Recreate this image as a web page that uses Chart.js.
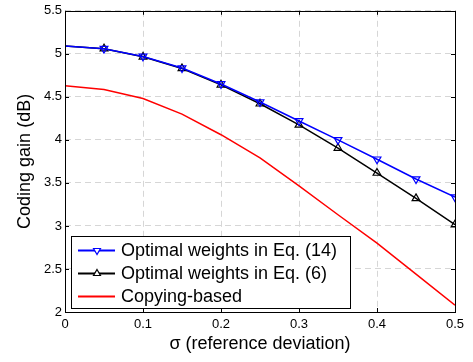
<!DOCTYPE html>
<html>
<head>
<meta charset="utf-8">
<script src="https://cdn.jsdelivr.net/npm/chart.js@4/dist/chart.umd.min.js"></script>
<style>
  html, body { margin: 0; padding: 0; background: #fff; }
  #wrap { width: 473px; height: 362px; position: relative; }
</style>
</head>
<body>
<div id="wrap"><canvas id="c"></canvas></div>
<script>
(function() {
  "use strict";

  // ===== Data =====
  var sigma = [0, 0.05, 0.1, 0.15, 0.2, 0.25, 0.3, 0.35, 0.4, 0.45, 0.5];
  var eq14 = [5.09, 5.06, 4.97, 4.835, 4.65, 4.44, 4.22, 4.00, 3.775, 3.545, 3.335];
  var eq6 = [5.09, 5.06, 4.965, 4.83, 4.64, 4.42, 4.175, 3.905, 3.615, 3.32, 3.015];
  var copying = [4.63, 4.585, 4.48, 4.30, 4.06, 3.79, 3.465, 3.13, 2.80, 2.44, 2.08];

  var xTicks = ["0", "0.1", "0.2", "0.3", "0.4", "0.5"];
  var yTicks = ["2", "2.5", "3", "3.5", "4", "4.5", "5", "5.5"];

  var labels = ["Optimal weights in Eq. (14)", "Optimal weights in Eq. (6)", "Copying-based"];

  var FONT = "'Liberation Sans', Arial, sans-serif";

  function toPoints(ys) {
    return sigma.map(function(x, i) { return { x: x, y: ys[i] }; });
  }

  // no marker at sigma = 0
  function markerRadii(r) {
    return sigma.map(function(x, i) { return i === 0 ? 0 : r; });
  }

  // ===== Frame, inward ticks and legend box =====
  var framePlugin = {
    id: "frame",
    afterDraw: function(chart) {
      var ctx = chart.ctx;
      var a = chart.chartArea;
      var xs = chart.scales.x, ys = chart.scales.y;
      var tl = 4;
      ctx.save();
      ctx.strokeStyle = "#000";
      ctx.lineWidth = 1;
      ctx.setLineDash([]);
      ctx.strokeRect(Math.round(a.left) + 0.5, Math.round(a.top) + 0.5,
        Math.round(a.right - a.left), Math.round(a.bottom - a.top));
      ctx.beginPath();
      xs.ticks.forEach(function(t) {
        var px = Math.round(xs.getPixelForValue(t.value)) + 0.5;
        ctx.moveTo(px, a.bottom); ctx.lineTo(px, a.bottom - tl);
        ctx.moveTo(px, a.top); ctx.lineTo(px, a.top + tl);
      });
      ys.ticks.forEach(function(t) {
        var py = Math.round(ys.getPixelForValue(t.value)) + 0.5;
        ctx.moveTo(a.left, py); ctx.lineTo(a.left + tl, py);
        ctx.moveTo(a.right, py); ctx.lineTo(a.right - tl, py);
      });
      ctx.stroke();

      // legend
      var bx = 71.5, by = 236.5, bw = 279, bh = 72;
      ctx.fillStyle = "#fff";
      ctx.fillRect(bx, by, bw, bh);
      ctx.strokeRect(bx, by, bw, bh);
      var rowY = [250.5, 273.5, 296.5];
      ctx.font = "18px " + FONT;
      ctx.textBaseline = "middle";
      chart.data.datasets.forEach(function(ds, i) {
        var y = rowY[i];
        ctx.strokeStyle = ds.borderColor;
        ctx.lineWidth = 2;
        ctx.beginPath();
        ctx.moveTo(78, y); ctx.lineTo(115, y);
        ctx.stroke();
        if (ds.pointStyle) {
          ctx.fillStyle = "#fff";
          ctx.lineWidth = 1.2;
          Chart.helpers.drawPoint(ctx, {
            pointStyle: ds.pointStyle,
            rotation: ds.pointRotation || 0,
            radius: 4,
            borderWidth: 1.2
          }, 97, y);
        }
        ctx.fillStyle = "#000";
        ctx.fillText(labels[i], 121, y + 1);
      });
      ctx.restore();
    }
  };

  var gridOpts = {
    color: "#d6d6d6",
    lineWidth: 1,
    drawTicks: false
  };

  new Chart(document.getElementById("c"), {
    type: "line",
    data: {
      datasets: [
        {
          label: labels[0],
          data: toPoints(eq14),
          borderColor: "#0000ff",
          borderWidth: 1.5,
          pointStyle: "triangle",
          pointRotation: 180,
          pointRadius: markerRadii(4.5),
          pointBorderColor: "#0000ff",
          pointBackgroundColor: "rgba(0,0,0,0)",
          pointBorderWidth: 1.2,
          tension: 0
        },
        {
          label: labels[1],
          data: toPoints(eq6),
          borderColor: "#000000",
          borderWidth: 1.5,
          pointStyle: "triangle",
          pointRadius: markerRadii(4.5),
          pointBorderColor: "#000000",
          pointBackgroundColor: "rgba(0,0,0,0)",
          pointBorderWidth: 1.2,
          tension: 0
        },
        {
          label: labels[2],
          data: toPoints(copying),
          borderColor: "#ff0000",
          borderWidth: 1.5,
          pointRadius: 0,
          pointStyle: false,
          tension: 0
        }
      ]
    },
    options: {
      responsive: true,
      maintainAspectRatio: false,
      animation: false,
      events: [],
      layout: { padding: { top: 8, right: 18, left: 0, bottom: 0 } },
      scales: {
        x: {
          type: "linear",
          min: 0,
          max: 0.5,
          afterBuildTicks: function(s) {
            s.ticks = xTicks.map(function(v) { return { value: parseFloat(v) }; });
          },
          afterFit: function(s) { s.height = 50; },
          ticks: {
            color: "#000",
            font: { size: 13, family: FONT },
            padding: 5,
            maxRotation: 0,
            callback: function(v, i) { return xTicks[i]; }
          },
          grid: gridOpts,
          border: { display: false, dash: [6, 4] },
          title: {
            display: true,
            text: "\u03c3 (reference deviation)",
            color: "#000",
            font: { size: 18, family: FONT },
            padding: { top: 0, bottom: 7 }
          }
        },
        y: {
          type: "linear",
          min: 2,
          max: 5.5,
          afterBuildTicks: function(s) {
            s.ticks = yTicks.map(function(v) { return { value: parseFloat(v) }; });
          },
          afterFit: function(s) { s.width = 65; },
          ticks: {
            color: "#000",
            font: { size: 13, family: FONT },
            padding: 3,
            callback: function(v, i) { return yTicks[i]; }
          },
          grid: gridOpts,
          border: { display: false, dash: [6, 4] },
          title: {
            display: true,
            text: "Coding gain (dB)",
            color: "#000",
            font: { size: 18, family: FONT },
            padding: { top: 14, bottom: 0 }
          }
        }
      },
      plugins: {
        legend: { display: false },
        tooltip: { enabled: false }
      }
    },
    plugins: [framePlugin]
  });
})();
</script>
</body>
</html>
